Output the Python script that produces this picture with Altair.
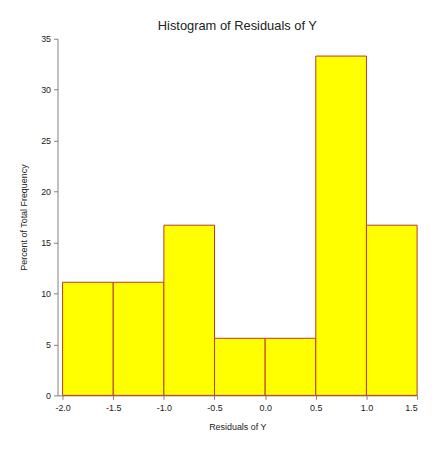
import altair as alt
import pandas as pd

bin_start = [-2.0, -1.5, -1.0, -0.5, 0.0, 0.5, 1.0]
bin_end = [-1.5, -1.0, -0.5, 0.0, 0.5, 1.0, 1.5]
percent = [11.1, 11.1, 16.7, 5.6, 5.6, 33.3, 16.7]
x_ticks = [-2.0, -1.5, -1.0, -0.5, 0.0, 0.5, 1.0, 1.5]
y_ticks = [0, 5, 10, 15, 20, 25, 30, 35]

df = pd.DataFrame({"start": bin_start, "end": bin_end, "pct": percent})

FONT = "Liberation Sans"

chart = alt.Chart(df).mark_bar(
    fill="#ffff00", stroke="#b8392f", strokeWidth=1, opacity=1
).encode(
    x=alt.X("start:Q",
            scale=alt.Scale(domain=[-2.05, 1.5], nice=False, zero=False),
            axis=alt.Axis(values=x_ticks, title="Residuals of Y",
                          labelExpr="(datum.value < 0 ? '-' : '') + format(abs(datum.value), '.1f')",
                          grid=False, tickSize=4, labelPadding=4,
                          titlePadding=10)),
    x2="end:Q",
    y=alt.Y("pct:Q",
            scale=alt.Scale(domain=[0, 35], nice=False),
            axis=alt.Axis(values=y_ticks, title="Percent of Total Frequency",
                          grid=False, tickSize=4, labelPadding=3,
                          titlePadding=12)),
    y2=alt.datum(0),
).properties(
    width=363,
    height=360,
    title=alt.TitleParams("Histogram of Residuals of Y", fontSize=13,
                          font=FONT, fontWeight="normal", color="#222222",
                          anchor="middle", offset=2),
    autosize=alt.AutoSizeParams(type="none"),
    padding={"left": 50, "top": 29, "right": 10, "bottom": 40},
).configure(
    background="white"
).configure_view(
    stroke=None
).configure_axis(
    domainColor="#808080",
    tickColor="#808080",
    labelColor="#222222",
    titleColor="#222222",
    labelFont=FONT,
    titleFont=FONT,
    labelFontSize=9,
    titleFontSize=9,
    titleFontWeight="normal",
)

chart.save("out.html", embed_options={"renderer": "svg", "actions": False})
